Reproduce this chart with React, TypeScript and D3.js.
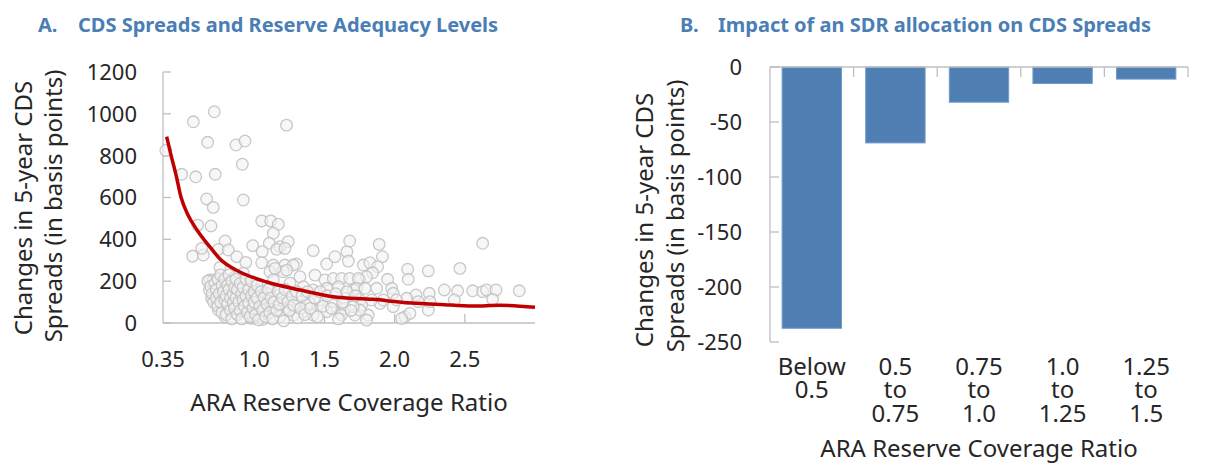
import React from "react";
import * as d3 from "d3";

// ---------- Panel A data ----------
const scatterPoints: [number, number][] = [
  [0.37, 825], [0.566, 962], [0.715, 1010], [1.23, 946], [0.668, 864], [0.87, 851], [0.934, 870],
  [0.483, 711], [0.583, 699], [0.722, 711], [0.915, 759], [0.661, 593], [0.708, 553], [0.922, 588],
  [0.597, 468], [0.692, 464], [1.053, 488], [1.117, 488], [1.171, 472], [1.136, 429], [0.792, 392],
  [0.989, 370], [1.107, 381], [1.183, 365], [1.242, 389], [1.42, 346], [0.561, 320], [0.637, 325],
  [0.744, 352], [1.057, 341], [1.16, 352], [1.053, 288], [1.3, 282], [1.516, 282], [1.575, 317],
  [1.66, 341], [1.136, 277], [1.219, 277], [0.626, 357], [0.815, 349], [0.875, 317], [0.94, 290],
  [0.756, 266], [1.219, 357], [1.68, 392], [1.67, 296], [1.777, 277], [1.278, 277], [1.207, 245],
  [1.112, 245], [1.89, 376], [2.627, 381], [1.913, 317], [1.824, 288], [1.879, 269], [1.843, 240],
  [2.093, 257], [2.24, 249], [2.465, 261], [1.231, 253], [1.148, 261],
  [0.685, 206], [0.697, 118], [0.744, 62], [0.792, 30], [0.98, 22], [1.064, 18], [0.708, 206],
  [0.68, 158], [0.756, 174], [0.803, 206], [0.863, 221], [0.922, 238], [0.946, 190], [0.827, 150],
  [0.898, 134], [0.78, 126], [0.732, 94], [0.803, 78], [0.875, 46], [0.946, 102], [0.993, 30],
  [1.064, 46], [0.98, 54], [1.017, 158], [0.97, 174], [1.088, 110], [1.112, 166],
  [1.326, 221], [1.433, 229], [1.504, 206], [1.563, 213], [1.622, 213], [1.68, 213], [1.753, 206],
  [1.8, 221], [1.136, 206], [1.255, 190], [1.35, 174], [1.42, 158], [1.516, 166], [1.6, 174],
  [1.705, 158], [1.088, 142], [1.183, 134], [1.302, 118], [1.397, 94], [1.468, 110], [1.563, 102],
  [1.646, 118], [1.753, 110], [1.136, 78], [1.231, 70], [1.35, 54], [1.42, 38], [1.516, 54],
  [1.61, 46], [1.717, 38], [1.765, 86], [1.278, 38], [1.183, 30], [1.373, 86],
  [2.097, 209], [1.95, 209], [1.741, 213], [1.73, 166], [1.789, 166], [1.872, 166], [1.979, 166],
  [1.99, 142], [2.152, 134], [2.247, 142], [2.354, 158], [2.449, 154], [2.556, 154], [2.627, 150],
  [2.655, 158], [2.722, 158], [2.888, 154], [2.698, 113], [2.425, 110], [2.086, 118], [2.24, 62],
  [2.252, 102], [2.073, 30], [2.109, 46], [2.05, 22], [1.99, 78], [1.896, 94], [1.812, 38],
  [1.8, 14], [1.753, 62], [1.646, 70], [1.705, 78], [1.622, 38], [1.92, 110], [1.836, 110],
  [2.014, 110], [2.168, 102],
  [0.67, 200], [0.69, 175], [0.7, 140], [0.71, 100], [0.72, 190], [0.73, 160], [0.73, 120],
  [0.74, 210], [0.74, 80], [0.75, 140], [0.76, 230], [0.76, 100], [0.77, 180], [0.77, 50],
  [0.78, 150], [0.79, 210], [0.79, 110], [0.8, 130], [0.8, 40], [0.81, 180], [0.81, 90],
  [0.82, 230], [0.82, 160], [0.83, 120], [0.83, 60], [0.84, 200], [0.84, 20], [0.85, 140],
  [0.85, 95], [0.86, 170], [0.86, 70], [0.87, 210], [0.87, 120], [0.88, 40], [0.88, 160],
  [0.89, 100], [0.9, 190], [0.9, 60], [0.91, 140], [0.91, 20], [0.92, 110], [0.92, 170],
  [0.93, 80], [0.94, 210], [0.94, 130], [0.95, 50], [0.96, 160], [0.96, 95], [0.97, 30],
  [0.98, 130], [0.98, 200], [0.99, 70], [1.0, 150], [1.0, 100], [1.01, 40], [1.02, 180],
  [1.02, 120], [1.03, 15], [1.04, 80], [1.05, 150], [1.06, 60], [1.07, 120], [1.08, 30],
  [1.09, 90], [1.1, 160], [1.11, 50], [1.12, 120], [1.13, 20], [1.14, 100], [1.16, 60],
  [1.17, 150], [1.18, 90], [1.2, 120], [1.21, 10], [1.22, 160], [1.24, 100], [1.25, 60],
  [1.27, 130], [1.28, 85], [1.3, 150], [1.31, 25], [1.33, 70], [1.34, 130], [1.36, 40],
  [1.38, 150], [1.4, 70], [1.43, 120], [1.45, 30], [1.47, 150], [1.49, 80], [1.52, 130],
  [1.55, 70], [1.58, 140], [1.6, 20], [1.63, 100], [1.66, 150], [1.69, 60], [1.72, 130],
];

const fitRatio = [0.376, 0.407, 0.443, 0.478, 0.528, 0.592, 0.685, 0.756, 0.898, 1.091, 1.326, 1.561, 1.846, 2.088, 2.323, 2.558, 2.75, 3.0];
const fitSpread = [891, 803, 707, 602, 516, 445, 363, 306, 244, 196, 158, 126, 113, 97, 89, 81, 85, 75];

const scatterXTicks = [0.35, 1.0, 1.5, 2.0, 2.5];
const scatterXTickLabels = ["0.35", "1.0", "1.5", "2.0", "2.5"];
const scatterYTicks = [0, 200, 400, 600, 800, 1000, 1200];

// ---------- Panel B data ----------
const barCategories = [
  ["Below", "0.5"],
  ["0.5", "to", "0.75"],
  ["0.75", "to", "1.0"],
  ["1.0", "to", "1.25"],
  ["1.25", "to", "1.5"],
];
const barValues = [-237.5, -69, -32, -15, -11];
const barYTicks = [0, -50, -100, -150, -200, -250];

const FONT = "'Noto Sans', 'Open Sans', sans-serif";
const TEXT = "#262626";
const TITLE = "#4a7eb4";
const AXIS = "#bfbfbf";

export default function App() {
  // Panel A scales
  const xA = d3.scaleLinear().domain([0.35, 3.0]).range([163, 535]);
  const yA = d3.scaleLinear().domain([0, 1200]).range([323, 72]);
  const line = d3
    .line<number>()
    .x((_, i) => xA(fitRatio[i]))
    .y((d) => yA(d))
    .curve(d3.curveMonotoneX);

  // Panel B scales
  const xB = d3.scaleBand<number>().domain(d3.range(barValues.length)).range([770, 1188]);
  const yB = d3.scaleLinear().domain([-250, 0]).range([342, 67]);
  const barW = xB.bandwidth() * 0.71;

  return (
    <svg width={1224} height={465} style={{ position: "absolute", left: 0, top: 0, background: "#fff" }} fontFamily={FONT}>
      {/* Titles */}
      <g fill={TITLE} fontWeight="bold" fontSize={20}>
        <text x={38} y={32}>A.</text>
        <text x={78} y={32}>CDS Spreads and Reserve Adequacy Levels</text>
        <text x={680} y={32}>B.</text>
        <text x={718} y={32}>Impact of an SDR allocation on CDS Spreads</text>
      </g>

      {/* ===== Panel A ===== */}
      <g stroke={AXIS} strokeWidth={1.3}>
        <line x1={163} x2={163} y1={yA(1200)} y2={yA(0)} />
        <line x1={163} x2={535} y1={yA(0)} y2={yA(0)} />
        {scatterYTicks.map((t) => (
          <line key={t} x1={163} x2={171} y1={yA(t)} y2={yA(t)} />
        ))}
        {scatterXTicks.slice(1).map((t) => (
          <line key={t} x1={xA(t)} x2={xA(t)} y1={yA(0)} y2={yA(0) - 9} />
        ))}
      </g>
      <g>
        {scatterPoints.map(([rx, s], i) => (
          <circle
            key={i}
            cx={xA(rx)}
            cy={yA(s)}
            r={5.8}
            fill="#f2f2f2"
            fillOpacity={0.6}
            stroke="#c2c2c2"
            strokeWidth={1.3}
            strokeOpacity={0.9}
          />
        ))}
      </g>
      <path d={line(fitSpread) || ""} fill="none" stroke="#c00000" strokeWidth={3.5} strokeLinejoin="round" />
      <g fill={TEXT} fontSize={22}>
        {scatterYTicks.map((t) => (
          <text key={t} x={137} y={yA(t)} dy="0.36em" textAnchor="end">{t}</text>
        ))}
        {scatterXTicks.map((t, i) => (
          <text key={t} x={xA(t)} y={367} textAnchor="middle">{scatterXTickLabels[i]}</text>
        ))}
      </g>
      <g fill={TEXT} fontSize={24}>
        <text x={349} y={411} textAnchor="middle">ARA Reserve Coverage Ratio</text>
        <text transform="translate(32,208) rotate(-90)" textAnchor="middle">Changes in 5-year CDS</text>
        <text transform="translate(62,206) rotate(-90)" textAnchor="middle">Spreads (in basis points)</text>
      </g>

      {/* ===== Panel B ===== */}
      <g>
        {barValues.map((v, i) => (
          <rect
            key={i}
            x={(xB(i) as number) + (xB.bandwidth() - barW) / 2}
            y={yB(0)}
            width={barW}
            height={yB(v) - yB(0)}
            fill="#4f7fb3"
            stroke="#6f9acb"
            strokeWidth={1}
          />
        ))}
      </g>
      <g stroke={AXIS} strokeWidth={1.3}>
        <line x1={770} x2={770} y1={yB(0)} y2={yB(-250)} />
        <line x1={770} x2={1188} y1={yB(0)} y2={yB(0)} />
        {barYTicks.map((t) => (
          <line key={t} x1={770} x2={779} y1={yB(t)} y2={yB(t)} />
        ))}
        {barValues.map((_, i) => (
          <line key={i} x1={(xB(i) as number) + xB.bandwidth()} x2={(xB(i) as number) + xB.bandwidth()} y1={yB(0)} y2={yB(0) + 10} />
        ))}
      </g>
      <g fill={TEXT} fontSize={22}>
        {barYTicks.map((t) => (
          <text key={t} x={742} y={yB(t)} dy="0.36em" textAnchor="end">{t}</text>
        ))}
      </g>
      <g fill={TEXT} fontSize={24}>
        {barCategories.map((lines, i) => (
          <text key={i} textAnchor="middle">
            {lines.map((l, j) => (
              <tspan key={j} x={(xB(i) as number) + xB.bandwidth() / 2} y={375 + j * 23.3}>{l}</tspan>
            ))}
          </text>
        ))}
        <text x={979} y={457} textAnchor="middle">ARA Reserve Coverage Ratio</text>
        <text transform="translate(653,220) rotate(-90)" textAnchor="middle">Changes in 5-year CDS</text>
        <text transform="translate(684,216) rotate(-90)" textAnchor="middle">Spreads (in basis points)</text>
      </g>
    </svg>
  );
}
